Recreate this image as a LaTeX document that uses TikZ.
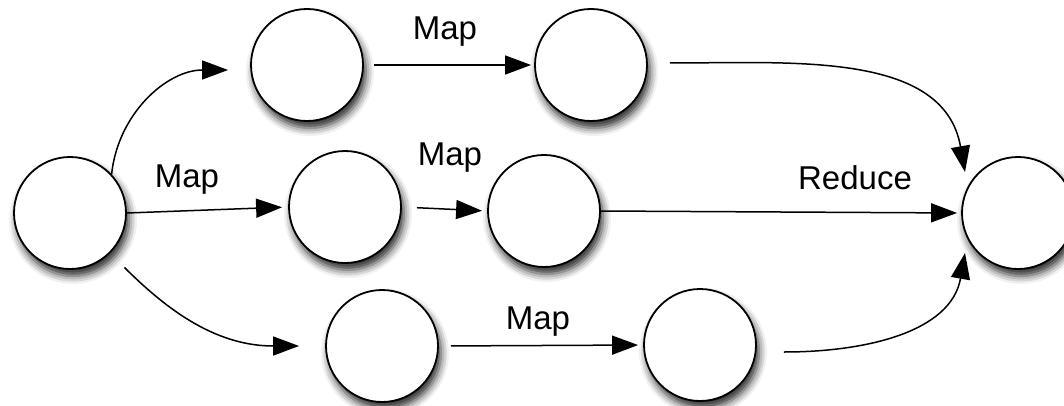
\documentclass[tikz,border=0pt]{standalone}
\usepackage{fontspec}
\setmainfont{Liberation Sans}
\usetikzlibrary{arrows.meta,shadows.blur}
\begin{document}
\begin{tikzpicture}[x=1pt,y=1pt,
  state/.style={circle,draw=black,line width=1.8pt,fill=white,minimum size=112pt,inner sep=0pt,
    blur shadow={shadow xshift=3pt,shadow yshift=-7pt,shadow blur radius=8pt,shadow opacity=85}},
  flow/.style={line width=1.5pt,-{Triangle[length=26pt,width=19pt]}},
  lbl/.style={inner sep=0pt,font=\fontsize{33}{40}\selectfont}]
\useasboundingbox (0,0) rectangle (1064,405);

% states
\node[state] (L)  at (70,192)  {};
\node[state] (A1) at (307,340) {};
\node[state] (A2) at (591,340) {};
\node[state] (B1) at (345,198) {};
\node[state] (B2) at (544,194) {};
\node[state] (C1) at (382,59)  {};
\node[state] (C2) at (700,60)  {};
\node[state] (R)  at (1018,192) {};

% fan-out from the source
\draw[flow] (L.43) to[out=84,in=180] ([xshift=-22pt,yshift=-5pt]A1.west);
\draw[flow,shorten >=6pt] (L.east) -- (B1.west);
\draw[flow,shorten <=20pt] (L.-45) to[out=-45,in=180] ([xshift=-26pt]C1.west);

% map steps
\draw[flow,shorten <=10pt,shorten >=3pt] (A1.east) -- (A2.west);
\draw[flow,shorten <=15pt,shorten >=5pt] (B1.east) -- (B2.west);
\draw[flow,shorten <=12pt,shorten >=5pt] (C1.east) -- (C2.west);

% reduce into the sink
\draw[flow] ([xshift=22pt,yshift=2pt]A2.east) to[out=0,in=100] ([xshift=-53pt,yshift=41pt]R.center);
\draw[flow,shorten >=4pt] (B2.east) -- (R.west);
\draw[flow] ([xshift=27pt,yshift=-7pt]C2.east) to[out=0,in=-100] ([xshift=-53pt,yshift=-40pt]R.center);

% labels
\node[lbl] (m1) at (445,373) {Map};
\node[lbl] (m2) at (187,225) {Map};
\node[lbl] (m3) at (450,247) {Map};
\node[lbl] (m4) at (538,83)  {Map};
\node[lbl] (rd) at (855,227) {Reduce};
\end{tikzpicture}
\end{document}
